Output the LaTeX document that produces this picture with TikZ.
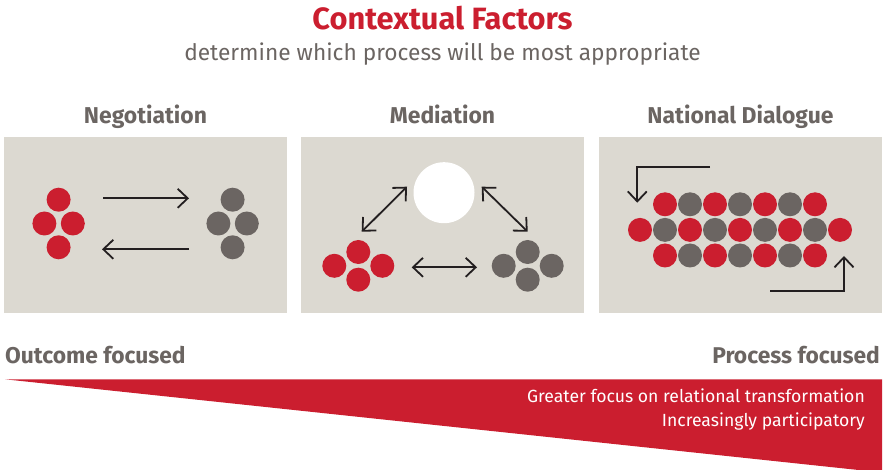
\documentclass[tikz,border=0pt]{standalone}
\usepackage{fontspec}
\setmainfont{Fira Sans}
\usetikzlibrary{arrows.meta}
\definecolor{cfred}{HTML}{CB1E2F}
\definecolor{cfgray}{HTML}{6B6562}
\definecolor{cfpanel}{HTML}{DCD9D1}
\definecolor{cfarrow}{HTML}{231F20}
\tikzset{
  panel/.style={fill=cfpanel, minimum width=283pt, minimum height=176pt, inner sep=0pt},
  txt/.style={inner sep=0pt},
  plabel/.style={txt, anchor=base, text=cfgray, font=\fontsize{22.9}{26}\selectfont\bfseries},
  scalelabel/.style={txt, text=cfgray, font=\fontsize{22.8}{26}\selectfont\bfseries},
  wedgetext/.style={txt, anchor=base east, text=white, font=\fontsize{17.6}{24}\selectfont},
  dot/.style={circle, minimum size=24pt, inner sep=0pt},
  rdot/.style={dot, fill=cfred},
  gdot/.style={dot, fill=cfgray},
  arr/.style={draw=cfarrow, line width=1.8pt, line join=miter,
    >={Straight Barb[length=10pt,width=19pt,line width=1.8pt]}},
}
\begin{document}
\begin{tikzpicture}[x=1pt,y=-1pt]
\useasboundingbox (0,0) rectangle (884,470);
\clip (0,0) rectangle (884,470);

% titles
\node[txt, anchor=base, text=cfred, font=\fontsize{30.8}{36}\selectfont\bfseries] (title) at (442.5,30) {Contextual Factors};
\node[txt, anchor=base, text=cfgray, font=\fontsize{22.7}{26}\selectfont] (subtitle) at (442.5,61) {determine which process will be most appropriate};

% panel labels
\node[plabel] (l1) at (145.5,124) {Negotiation};
\node[plabel] (l2) at (442.5,124) {Mediation};
\node[plabel] (l3) at (740.5,124) {National Dialogue};

% panels
\node[panel] (p1) at (145.5,225) {};
\node[panel] (p2) at (442.5,225) {};
\node[panel] (p3) at (740.5,225) {};

% ---- panel 1: negotiation
\node[rdot] (n1r1) at (58.6,199.7) {};
\node[rdot] (n1r2) at (44.4,223.5) {};
\node[rdot] (n1r3) at (72.8,223.5) {};
\node[rdot] (n1r4) at (58.6,247.3) {};
\node[gdot] (n1g1) at (232.6,199.7) {};
\node[gdot] (n1g2) at (218.4,223.5) {};
\node[gdot] (n1g3) at (246.8,223.5) {};
\node[gdot] (n1g4) at (232.6,247.3) {};
\coordinate (a1s) at (103,198.3);
\coordinate (a1e) at (189,198.3);
\coordinate (a2s) at (189,249.3);
\coordinate (a2e) at (102,249.3);
\draw[arr,->] (a1s) -- (a1e);
\draw[arr,->] (a2s) -- (a2e);

% ---- panel 2: mediation
\node[circle, fill=white, minimum size=61pt, inner sep=0pt] (mediator) at (444,192.7) {};
\node[rdot] (m1r1) at (358.3,252) {};
\node[rdot] (m1r2) at (334.3,265.8) {};
\node[rdot] (m1r3) at (382.3,265.8) {};
\node[rdot] (m1r4) at (358.3,279.7) {};
\node[gdot] (m1g1) at (527.7,252) {};
\node[gdot] (m1g2) at (503.7,265.8) {};
\node[gdot] (m1g3) at (551.7,265.8) {};
\node[gdot] (m1g4) at (527.7,279.7) {};
\coordinate (b1s) at (411.7,267.3);
\coordinate (b1e) at (477,267.3);
\coordinate (b2s) at (361.7,231.7);
\coordinate (b2e) at (407,186.7);
\coordinate (b3s) at (481.7,186.7);
\coordinate (b3e) at (527.7,231.7);
\draw[arr,<->] (b1s) -- (b1e);
\draw[arr,<->] (b2s) -- (b2e);
\draw[arr,<->] (b3s) -- (b3e);

% ---- panel 3: national dialogue
\foreach \i in {0,...,6}{
  \pgfmathsetmacro{\xx}{665+25*\i}
  \ifodd\i
    \node[gdot] (ta\i) at (\xx,204.3) {};
    \node[gdot] (tc\i) at (\xx,255.5) {};
  \else
    \node[rdot] (ta\i) at (\xx,204.3) {};
    \node[rdot] (tc\i) at (\xx,255.5) {};
  \fi
}
\foreach \i in {0,...,8}{
  \pgfmathsetmacro{\xx}{640+25*\i}
  \ifodd\i
    \node[gdot] (tb\i) at (\xx,229.9) {};
  \else
    \node[rdot] (tb\i) at (\xx,229.9) {};
  \fi
}
\coordinate (c1s) at (710,167.3);
\coordinate (c1e) at (637.3,202.7);
\coordinate (c2s) at (770,291);
\coordinate (c2e) at (844,256);
\draw[arr,->] (c1s) -| (c1e);
\draw[arr,->] (c2s) -| (c2e);

% ---- bottom scale
\node[scalelabel, anchor=base west] (outcome) at (5,363.3) {Outcome focused};
\node[scalelabel, anchor=base east] (process) at (880,363.3) {Process focused};
\fill[cfred] (5,379.3) -- (882,379.3) -- (882,472.5) -- cycle;
\node[wedgetext] (g1) at (865,402.7) {Greater focus on relational transformation};
\node[wedgetext] (g2) at (865,426.7) {Increasingly participatory};
\end{tikzpicture}
\end{document}
